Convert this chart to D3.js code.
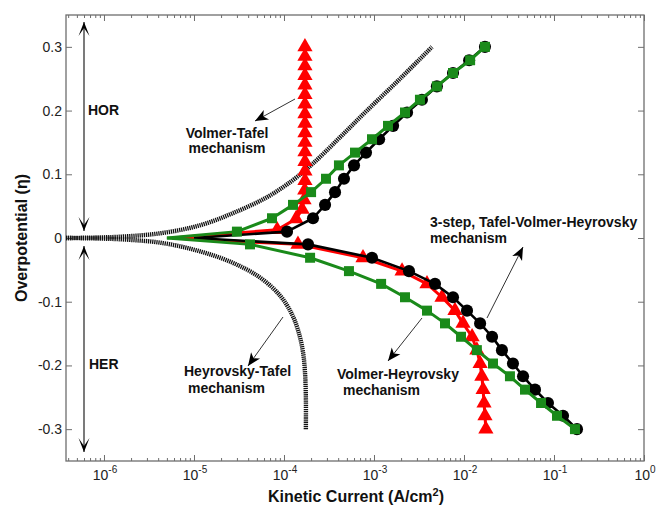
<!DOCTYPE html>
<html>
<head>
<meta charset="utf-8">
<script src="https://cdn.jsdelivr.net/npm/d3@7"></script>
<style>
  body { margin: 0; background: #fff; }
  text { font-family: "Liberation Sans", Arial, sans-serif; }
</style>
</head>
<body>
<div class="chart"></div>
<script>
// ---- data ----
const xDecades = [-6, -5, -4, -3, -2, -1, 0];
const yTicks = [-0.3, -0.2, -0.1, 0, 0.1, 0.2, 0.3];

// 3-step Tafel-Volmer-Heyrovsky (black circles)
const blackUpEta = [0.010, 0.031, 0.052, 0.072, 0.093, 0.114, 0.134, 0.155, 0.176, 0.197, 0.217, 0.238, 0.259, 0.279, 0.300];
const blackUpI = [1.08e-4, 2.1e-4, 2.86e-4, 3.69e-4, 4.64e-4, 6.0e-4, 8.15e-4, 1.14e-3, 1.63e-3, 2.33e-3, 3.41e-3, 5.0e-3, 7.55e-3, 1.14e-2, 1.71e-2];
const blackDownEta = [-0.010, -0.031, -0.052, -0.072, -0.093, -0.114, -0.134, -0.155, -0.176, -0.197, -0.217, -0.238, -0.259, -0.279, -0.300];
const blackDownI = [1.85e-4, 9.5e-4, 2.45e-3, 4.76e-3, 7.55e-3, 1.08e-2, 1.51e-2, 2.05e-2, 2.64e-2, 3.5e-2, 4.53e-2, 6.15e-2, 8.57e-2, 0.126, 0.180];

// Volmer-Heyrovsky (green squares)
const greenUpEta = blackUpEta;
const greenUpI = [3.0e-5, 7.36e-5, 1.26e-4, 2.0e-4, 2.93e-4, 4.08e-4, 6.15e-4, 9.5e-4, 1.43e-3, 2.21e-3, 3.24e-3, 5.0e-3, 7.55e-3, 1.17e-2, 1.71e-2];
const greenDownEta = blackDownEta;
const greenDownI = [4.19e-5, 1.95e-4, 5.27e-4, 1.2e-3, 2.21e-3, 3.88e-3, 6.15e-3, 9.27e-3, 1.39e-2, 2.1e-2, 3.24e-2, 4.76e-2, 7.18e-2, 0.108, 0.171];

// red triangles
const redUpEta = [0.013, 0.030, 0.045, 0.060, 0.075, 0.090, 0.105, 0.120, 0.135, 0.150, 0.165, 0.180, 0.195, 0.210, 0.225, 0.240, 0.255, 0.270, 0.285, 0.300];
const redUpI = [8.4e-5, 1.36e-4, 1.59e-4, 1.67e-4, 1.70e-4, 1.71e-4, 1.71e-4, 1.71e-4, 1.71e-4, 1.71e-4, 1.71e-4, 1.71e-4, 1.71e-4, 1.71e-4, 1.71e-4, 1.71e-4, 1.71e-4, 1.71e-4, 1.71e-4, 1.71e-4];
const redDownEta = blackDownEta;
const redDownI = [1.43e-4, 7.55e-4, 2.05e-3, 3.88e-3, 5.7e-3, 7.94e-3, 9.75e-3, 1.23e-2, 1.39e-2, 1.51e-2, 1.58e-2, 1.63e-2, 1.67e-2, 1.71e-2, 1.75e-2];

// where each marked curve leaves eta = 0 on the left
const tailI = { black: 1.0e-5, green: 5.0e-6, red: 5.7e-6 };

// Volmer-Tafel (dotted, HOR) and Heyrovsky-Tafel (dotted, HER)
const vtI = [3.79e-7, 1.51e-6, 4.53e-6, 1.17e-5, 2.71e-5, 6.47e-5, 1.26e-4, 2.1e-4, 4.19e-4, 8.36e-4, 1.95e-3, 4.41e-3];
const vtEta = [0, 0.002, 0.008, 0.020, 0.039, 0.064, 0.091, 0.117, 0.158, 0.200, 0.250, 0.300];
const htI = [3.79e-7, 1.51e-6, 4.53e-6, 1.17e-5, 2.71e-5, 5.41e-5, 9.0e-5, 1.23e-4, 1.47e-4, 1.63e-4, 1.71e-4, 1.75e-4, 1.75e-4];
const htEta = [0, -0.002, -0.008, -0.021, -0.039, -0.062, -0.090, -0.120, -0.150, -0.180, -0.210, -0.250, -0.300];

// ---- layout ----
const W = 657, H = 507;
const L = 66, R = 644, T = 15, B = 461;
const GREEN = '#1a8a1a', RED = '#ff0000', AXIS = '#6e6e6e';

const svg = d3.select('.chart').append('svg').attr('width', W).attr('height', H);

const x = d3.scaleLog().domain([Math.pow(10, -6.422), 1]).range([L, R]);
const y = d3.scaleLinear().domain([-0.35, 0.35]).range([B, T]);

const defs = svg.append('defs');
defs.append('clipPath').attr('id', 'plot')
  .append('rect').attr('x', L).attr('y', T).attr('width', R - L).attr('height', B - T);
defs.append('marker').attr('id', 'head').attr('viewBox', '-14 -7 16 14')
  .attr('refX', 0).attr('refY', 0).attr('markerWidth', 16).attr('markerHeight', 14)
  .attr('markerUnits', 'userSpaceOnUse').attr('orient', 'auto')
  .append('path').attr('d', 'M0,0 L-13,-5.5 L-9.5,0 L-13,5.5 Z').attr('fill', '#000');
defs.append('marker').attr('id', 'chev').attr('viewBox', '-15 -8 16 16')
  .attr('refX', 0).attr('refY', 0).attr('markerWidth', 16).attr('markerHeight', 16)
  .attr('markerUnits', 'userSpaceOnUse').attr('orient', 'auto-start-reverse')
  .append('path').attr('d', 'M0,0 L-14,-5.5 L-6,0 L-14,5.5 Z').attr('fill', '#000');

// ---- axes ----
const minors = [];
xDecades.forEach(d => {
  for (let k = 2; k <= 9; k++) {
    const v = k * Math.pow(10, d - 1);
    if (v >= x.domain()[0]) minors.push(v);
  }
});
const majors = xDecades.map(d => Math.pow(10, d));

function styleAxis(g) {
  g.select('.domain').remove();
  g.selectAll('line').attr('stroke', AXIS);
}
svg.append('g').attr('transform', `translate(0,${B})`)
  .call(d3.axisBottom(x).tickValues(majors).tickSize(-6).tickFormat('')).call(styleAxis);
svg.append('g').attr('transform', `translate(0,${B})`)
  .call(d3.axisBottom(x).tickValues(minors).tickSize(-3).tickFormat('')).call(styleAxis);
svg.append('g').attr('transform', `translate(0,${T})`)
  .call(d3.axisTop(x).tickValues(majors).tickSize(-6).tickFormat('')).call(styleAxis);
svg.append('g').attr('transform', `translate(0,${T})`)
  .call(d3.axisTop(x).tickValues(minors).tickSize(-3).tickFormat('')).call(styleAxis);
svg.append('g').attr('transform', `translate(${L},0)`)
  .call(d3.axisLeft(y).tickValues(yTicks).tickSize(-6).tickPadding(4).tickFormat(d => String(d)))
  .call(styleAxis)
  .selectAll('text').attr('font-size', 14).attr('fill', '#222')
  .attr('font-family', '"Liberation Sans", Arial, sans-serif');
svg.append('g').attr('transform', `translate(${R},0)`)
  .call(d3.axisRight(y).tickValues(yTicks).tickSize(-6).tickFormat('')).call(styleAxis);

svg.append('rect').attr('x', L).attr('y', T).attr('width', R - L).attr('height', B - T)
  .attr('fill', 'none').attr('stroke', AXIS).attr('stroke-width', 1.3);

const xl = svg.append('g').selectAll('text').data(xDecades).enter().append('text')
  .attr('x', d => x(Math.pow(10, d)) + 1).attr('y', 480)
  .attr('text-anchor', 'middle').attr('font-size', 14).attr('fill', '#222');
xl.append('tspan').text('10');
xl.append('tspan').attr('dy', -7).attr('font-size', 10).text(d => d === 0 ? '0' : String(d));

svg.append('text').attr('x', 356).attr('y', 502).attr('text-anchor', 'middle')
  .attr('font-size', 16).attr('font-weight', 'bold').attr('fill', '#111')
  .call(t => {
    t.append('tspan').text('Kinetic Current (A/cm');
    t.append('tspan').attr('dy', -6).attr('font-size', 11).text('2');
    t.append('tspan').attr('dy', 6).text(')');
  });
svg.append('text').attr('transform', 'translate(27,238) rotate(-90)').attr('text-anchor', 'middle')
  .attr('font-size', 16).attr('font-weight', 'bold').attr('fill', '#111')
  .text('Overpotential (η)');

// ---- curves ----
const plot = svg.append('g').attr('clip-path', 'url(#plot)');
const smooth = d3.line().x(d => x(d[0])).y(d => y(d[1])).curve(d3.curveCatmullRom);
const straight = d3.line().x(d => x(d[0])).y(d => y(d[1]));
const zip = (I, E) => I.map((v, i) => [v, E[i]]);

[[vtI, vtEta], [htI, htEta]].forEach(([I, E]) => {
  plot.append('path').datum(zip(I, E)).attr('d', smooth)
    .attr('fill', 'none').attr('stroke', '#111').attr('stroke-width', 4.4)
    .attr('stroke-dasharray', '1.3,0.8');
});

const series = [
  { key: 'red', color: RED, width: 3, up: zip(redUpI, redUpEta), down: zip(redDownI, redDownEta),
    symbol: d3.symbolTriangle, size: 100 },
  { key: 'black', color: '#000', width: 2.6, up: zip(blackUpI, blackUpEta), down: zip(blackDownI, blackDownEta),
    symbol: d3.symbolCircle, size: 115 },
  { key: 'green', color: GREEN, width: 3, up: zip(greenUpI, greenUpEta), down: zip(greenDownI, greenDownEta),
    symbol: d3.symbolSquare, size: 100 }
];

series.forEach(s => {
  [s.up, s.down].forEach(pts => {
    plot.append('path').datum([[tailI[s.key], 0]].concat(pts)).attr('d', straight)
      .attr('fill', 'none').attr('stroke', s.color).attr('stroke-width', s.width)
      .attr('stroke-linejoin', 'round');
  });
  plot.append('g').selectAll('path').data(s.up.concat(s.down)).enter().append('path')
    .attr('transform', d => `translate(${x(d[0])},${y(d[1])})`)
    .attr('d', d3.symbol().type(s.symbol).size(s.size))
    .attr('fill', s.color);
});

// ---- annotations ----
const ann = svg.append('g').attr('font-size', 14).attr('font-weight', 'bold').attr('fill', '#111');
const arrow = (x1, y1, x2, y2) => ann.append('line').attr('x1', x1).attr('y1', y1).attr('x2', x2).attr('y2', y2)
  .attr('stroke', '#333').attr('stroke-width', 1).attr('marker-end', 'url(#head)');

[[22, 231], [246, 452]].forEach(([a, b]) => {
  ann.append('line').attr('x1', 84).attr('y1', a).attr('x2', 84).attr('y2', b)
    .attr('stroke', '#333').attr('stroke-width', 1.3)
    .attr('marker-start', 'url(#chev)').attr('marker-end', 'url(#chev)');
});
ann.append('text').attr('x', 88).attr('y', 115).text('HOR');
ann.append('text').attr('x', 89).attr('y', 369).text('HER');

ann.append('text').attr('x', 227).attr('y', 138).attr('text-anchor', 'middle').text('Volmer-Tafel');
ann.append('text').attr('x', 227).attr('y', 153).attr('text-anchor', 'middle').text('mechanism');
arrow(295, 99, 255, 121);

ann.append('text').attr('x', 184).attr('y', 376).text('Heyrovsky-Tafel');
ann.append('text').attr('x', 188).attr('y', 393).text('mechanism');
arrow(283, 317, 248, 366);

ann.append('text').attr('x', 337).attr('y', 379).text('Volmer-Heyrovsky');
ann.append('text').attr('x', 343).attr('y', 395).text('mechanism');
arrow(422, 318, 388, 361);

ann.append('text').attr('x', 430).attr('y', 227).text('3-step, Tafel-Volmer-Heyrovsky');
ann.append('text').attr('x', 430).attr('y', 243).text('mechanism');
arrow(487, 318, 523, 247);
</script>
</body>
</html>
